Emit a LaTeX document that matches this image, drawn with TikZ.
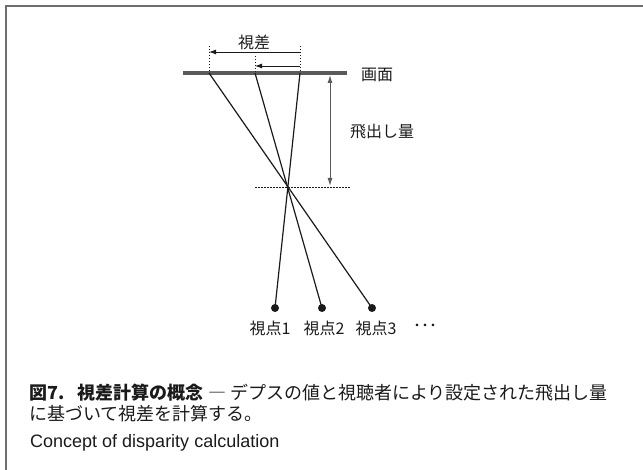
\documentclass[tikz,border=0pt]{standalone}
\usepackage{fontspec}
\newfontfamily\jp{Noto Sans CJK JP}
\newfontfamily\en{Liberation Sans}
\usetikzlibrary{arrows.meta}
\definecolor{ink}{HTML}{1A1A1A}
\definecolor{bar}{HTML}{5A5A5A}
\definecolor{framec}{HTML}{6E6E6E}
\begin{document}
\begin{tikzpicture}[x=1pt,y=-1pt,
  ray/.style={draw=ink,line width=1.2pt},
  guide/.style={draw=ink,line width=0.8pt,dash pattern=on 1.5pt off 1.5pt},
  dimarrow/.style={draw=ink,line width=0.9pt,-{Latex[length=7pt,width=5pt]}},
  vparrow/.style={draw=bar,line width=1pt,{Latex[length=8pt,width=5pt]}-{Latex[length=8pt,width=5pt]}},
  vp/.style={circle,fill=ink,inner sep=0pt,minimum size=8pt},
  lbl/.style={font=\jp\fontsize{16}{18}\selectfont,text=ink,inner sep=0pt},
  captext/.style={font=\jp\fontsize{18}{22}\selectfont,text=ink,inner sep=0pt,anchor=west}]
\useasboundingbox (0,0) rectangle (643,470);
\draw[framec,line width=1.6pt] (6,470) -- (6,6) -- (643,6);
% screen
\coordinate (sL) at (183,73);
\coordinate (sR) at (347,73);
\draw[bar,line width=3.6pt] (sL) -- (sR);
\coordinate (A1) at (209,73);
\coordinate (A2) at (255,73);
\coordinate (A3) at (300,73);
\coordinate (T1) at (209,46);
\coordinate (T2) at (255,56);
\coordinate (T3) at (300,46);
\coordinate (C) at (288,187);
% viewpoints
\node[vp] (V1) at (275,308) {};
\node[vp] (V2) at (322,308) {};
\node[vp] (V3) at (372,308) {};
\draw[ray] (A1) -- (V3.center);
\draw[ray] (A2) -- (V2.center);
\draw[ray] (A3) -- (V1.center);
% guides
\draw[guide] (T1) -- (A1);
\draw[guide] (T2) -- (A2);
\draw[guide] (T3) -- (A3);
\coordinate (D1) at (255,187);
\coordinate (D2) at (351,187);
\draw[guide] (D1) -- (D2);
% disparity arrows
\coordinate (P1s) at (300,52);
\coordinate (P1e) at (209,52);
\coordinate (P2s) at (300,66);
\coordinate (P2e) at (255,66);
\draw[dimarrow] (P1s) -- (P1e);
\draw[dimarrow] (P2s) -- (P2e);
% pop-out arrow
\coordinate (H1) at (330,75);
\coordinate (H2) at (330,186);
\draw[vparrow] (H1) -- (H2);
% labels
\node[lbl] (ldisp) at (254,42) {視差};
\node[lbl,anchor=west] (lscreen) at (361,75) {画面};
\node[lbl,anchor=west] (lpop) at (350,132) {飛出し量};
\node[lbl] (l1) at (270,328) {視点1};
\node[lbl] (l2) at (324,328) {視点2};
\node[lbl] (l3) at (376,328) {視点3};
\node[lbl] (ldots) at (425,328) {･･･};
% caption
\node[captext] (c1) at (29,393) {{\bfseries 図7.\hspace{0.75em}視差計算の概念} ― デプスの値と視聴者により設定された飛出し量};
\node[captext] (c2) at (29,414) {に基づいて視差を計算する。};
\node[captext,font=\en\fontsize{18}{22}\selectfont] (c3) at (30,443) {Concept of disparity calculation};
\end{tikzpicture}
\end{document}
